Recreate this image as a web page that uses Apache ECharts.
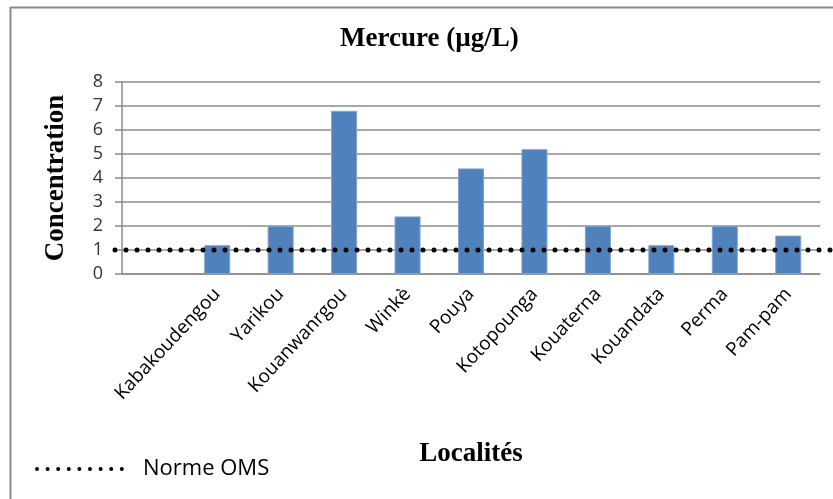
<!DOCTYPE html>
<html>
<head>
<meta charset="utf-8">
<script src="https://cdn.jsdelivr.net/npm/echarts@6/dist/echarts.min.js"></script>
<style>
html, body { margin: 0; padding: 0; background: #fff; }
#chart { width: 833px; height: 499px; }
</style>
</head>
<body>
<div id="chart"></div>
<script>
// Mercury concentration per locality (µg/L); the first slot is left empty
const localites = ['', 'Kabakoudengou', 'Yarikou', 'Kouanwanrgou', 'Winkè', 'Pouya', 'Kotopounga', 'Kouaterna', 'Kouandata', 'Perma', 'Pam-pam'];
const mercure = [null, 1.2, 2.0, 6.8, 2.4, 4.4, 5.2, 2.0, 1.2, 2.0, 1.6];
// WHO guideline value
const normeOMS = 1;
const normeEnds = ['début', 'fin'];
// Value axis range
const yMin = 0;
const yMax = 8;
const yStep = 1;

const serif = '"Liberation Serif", "DejaVu Serif", serif';
const sans = '"Open Sans", "Noto Sans", sans-serif';
const dots = { type: [0, 11], cap: 'round', width: 5, color: '#000' };

const chart = echarts.init(document.getElementById('chart'), null, { renderer: 'canvas' });
chart.setOption({
  animation: false,
  backgroundColor: '#fff',
  title: {
    text: 'Mercure (µg/L)',
    left: 335,
    top: 21,
    textStyle: { fontFamily: serif, fontWeight: 'bold', fontSize: 27, color: '#000' }
  },
  legend: {
    left: 30,
    top: 453,
    itemWidth: 88,
    itemHeight: 14,
    data: ['Norme OMS'],
    itemStyle: { opacity: 0 },
    textStyle: { fontFamily: sans, fontSize: 22, color: '#000', padding: [0, 0, 0, 13] },
    lineStyle: { type: [0, 10.6], cap: 'round', width: 4, color: '#000' }
  },
  graphic: [{
    type: 'rect',
    left: 8,
    top: 5,
    shape: { width: 840, height: 510 },
    style: { fill: 'none', stroke: '#8a8a8a', lineWidth: 2 },
    silent: true
  }],
  grid: [
    { left: 122, right: 13, top: 82, bottom: 225 },
    { left: 115, right: -15, top: 82, bottom: 225 }
  ],
  xAxis: [{
    type: 'category',
    gridIndex: 0,
    data: localites,
    name: 'Localités',
    nameLocation: 'middle',
    nameGap: 167,
    nameTextStyle: { fontFamily: serif, fontWeight: 'bold', fontSize: 27, color: '#000' },
    axisLine: { lineStyle: { color: '#8c8c8c', width: 1.5 } },
    axisTick: { show: false },
    axisLabel: { rotate: 47, interval: 0, margin: 17, fontFamily: sans, fontSize: 19, color: '#000' }
  }, {
    type: 'category',
    gridIndex: 1,
    data: normeEnds,
    boundaryGap: false,
    show: false
  }],
  yAxis: [{
    type: 'value',
    gridIndex: 0,
    min: yMin,
    max: yMax,
    interval: yStep,
    name: 'Concentration',
    nameLocation: 'middle',
    nameRotate: 90,
    nameGap: 52,
    nameTextStyle: { fontFamily: serif, fontWeight: 'bold', fontSize: 27, color: '#000' },
    axisLine: { show: true, lineStyle: { color: '#8c8c8c', width: 1.5 } },
    axisTick: { show: true, length: 7, lineStyle: { color: '#8c8c8c', width: 1.5 } },
    splitLine: { lineStyle: { color: '#8c8c8c', width: 1.5 } },
    axisLabel: { margin: 19, fontFamily: sans, fontSize: 18, color: '#333' }
  }, {
    type: 'value',
    gridIndex: 1,
    min: yMin,
    max: yMax,
    show: false
  }],
  series: [{
    name: 'Mercure',
    type: 'bar',
    xAxisIndex: 0,
    yAxisIndex: 0,
    data: mercure,
    barCategoryGap: '59%',
    itemStyle: { color: '#4F81BD', borderColor: '#7FA3CF', borderWidth: 1 },
    z: 2
  }, {
    name: 'Norme OMS',
    type: 'line',
    xAxisIndex: 1,
    yAxisIndex: 1,
    data: normeEnds.map(() => normeOMS),
    symbol: 'none',
    lineStyle: dots,
    z: 5
  }]
});
</script>
</body>
</html>
